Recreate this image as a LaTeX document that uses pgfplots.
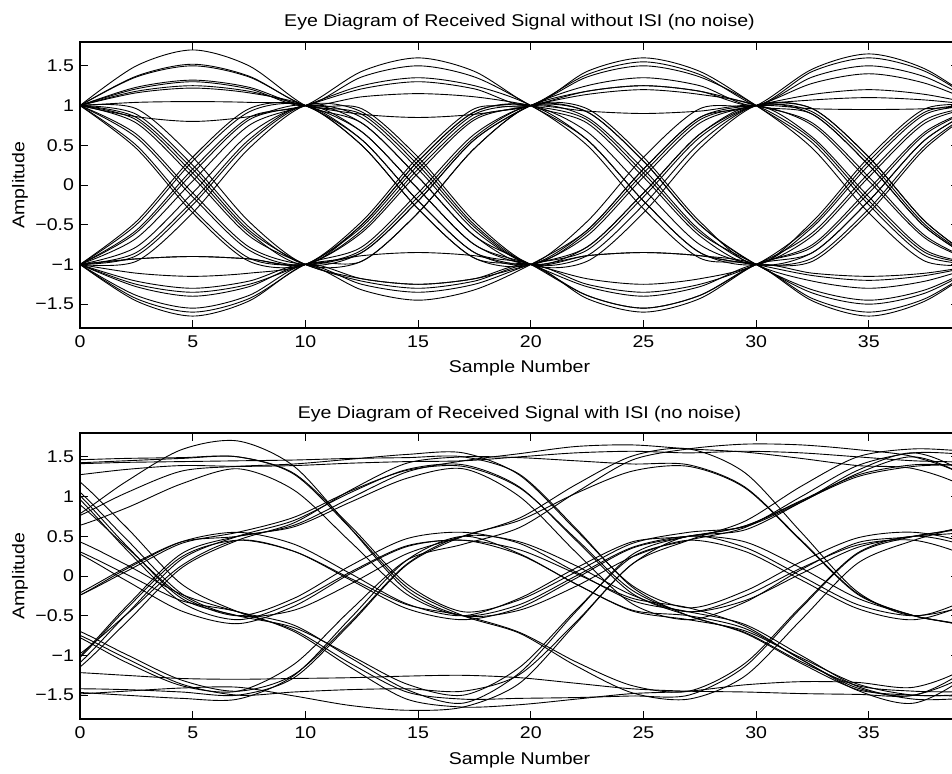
\documentclass[border=0pt]{standalone}
\usepackage{fontspec}
\setmainfont{Liberation Sans}[FakeStretch=1.15]
\usepackage{pgfplots}
\pgfplotsset{compat=1.18}
\pgfplotsset{eyestyle/.style={
  scale only axis, width=439.5pt, height=143pt,
  xmin=0, xmax=39, ymin=-1.8, ymax=1.8,
  xtick={0,5,10,15,20,25,30,35}, xticklabels={0,5,10,15,20,25,30,35},
  ytick={-1.5,-1,-0.5,0,0.5,1,1.5}, yticklabels={−1.5,−1,−0.5,0,0.5,1,1.5},
  tick align=inside, major tick length=4pt,
  axis line style={line width=0.6pt},
  every tick/.style={black, line width=0.45pt},
  xticklabel style={yshift=-1pt},
  xlabel={Sample Number}, ylabel={Amplitude},
  xlabel style={at={(axis description cs:0.5,0)}, anchor=base, yshift=-22.5pt},
  ylabel style={at={(axis description cs:-0.0683,0.5)}, anchor=center},
  title style={at={(axis description cs:0.5,1)}, anchor=base, yshift=1.5pt},
  cycle list={{black, solid, mark=none}},
  every axis plot/.append style={smooth, line width=0.45pt},
}}
\begin{document}
\fontsize{8.5}{10}\selectfont
\begin{tikzpicture}
\useasboundingbox (0,0) rectangle (476pt,-387pt);
\clip (0,0) rectangle (476pt,-387pt);
\begin{axis}[eyestyle, at={(40pt,-164pt)}, anchor=south west,
  title={Eye Diagram of Received Signal without ISI (no noise)}]
\addplot+[smooth] coordinates {(0,1)(2.5,1.50)(5,1.70)(7.5,1.50)(10,1)(12.5,0.78)(15,0.10)(17.5,-0.64)(20,-1)(22.5,-1.39)(25,-1.55)(27.5,-1.39)(30,-1)(32.5,-0.85)(35,-0.20)(37.5,0.57)(40,1)};
\addplot+[smooth] coordinates {(0,1)(2.5,0.60)(5,-0.15)(7.5,-0.82)(10,-1)(12.5,-0.57)(15,0.20)(17.5,0.85)(20,1)(22.5,1.39)(25,1.55)(27.5,1.39)(30,1)(32.5,0.89)(35,0.25)(37.5,-0.53)(40,-1)};
\addplot+[smooth] coordinates {(0,-1)(2.5,-1.43)(5,-1.60)(7.5,-1.43)(10,-1)(12.5,-0.78)(15,-0.10)(17.5,0.64)(20,1)(22.5,0.92)(25,0.30)(27.5,-0.50)(30,-1)(32.5,-1.21)(35,-1.30)(37.5,-1.21)(40,-1)};
\addplot+[smooth] coordinates {(0,-1)(2.5,-0.60)(5,0.15)(7.5,0.82)(10,1)(12.5,1.21)(15,1.30)(17.5,1.21)(20,1)(22.5,1.43)(25,1.60)(27.5,1.43)(30,1)(32.5,0.53)(35,-0.25)(37.5,-0.89)(40,-1)};
\addplot+[smooth] coordinates {(0,1)(2.5,1.21)(5,1.30)(7.5,1.21)(10,1)(12.5,1.36)(15,1.50)(17.5,1.36)(20,1)(22.5,0.57)(25,-0.20)(27.5,-0.85)(30,-1)(32.5,-0.64)(35,0.10)(37.5,0.78)(40,1)};
\addplot+[smooth] coordinates {(0,-1)(2.5,-1.21)(5,-1.30)(7.5,-1.21)(10,-1)(12.5,-1.32)(15,-1.45)(17.5,-1.32)(20,-1)(22.5,-0.57)(25,0.20)(27.5,0.85)(30,1)(32.5,1.46)(35,1.65)(37.5,1.46)(40,1)};
\addplot+[smooth] coordinates {(0,1)(2.5,0.85)(5,0.20)(7.5,-0.57)(10,-1)(12.5,-1.18)(15,-1.25)(17.5,-1.18)(20,-1)(22.5,-0.78)(25,-0.10)(27.5,0.64)(30,1)(32.5,0.92)(35,0.30)(37.5,-0.50)(40,-1)};
\addplot+[smooth] coordinates {(0,-1)(2.5,-0.89)(5,-0.25)(7.5,0.53)(10,1)(12.5,0.78)(15,0.10)(17.5,-0.64)(20,-1)(22.5,-0.60)(25,0.15)(27.5,0.82)(30,1)(32.5,1.14)(35,1.20)(37.5,1.14)(40,1)};
\addplot+[smooth] coordinates {(0,1)(2.5,1.36)(5,1.50)(7.5,1.36)(10,1)(12.5,0.89)(15,0.25)(17.5,-0.53)(20,-1)(22.5,-0.78)(25,-0.10)(27.5,0.64)(30,1)(32.5,0.60)(35,-0.15)(37.5,-0.82)(40,-1)};
\addplot+[smooth] coordinates {(0,-1)(2.5,-1.25)(5,-1.35)(7.5,-1.25)(10,-1)(12.5,-0.85)(15,-0.20)(17.5,0.57)(20,1)(22.5,1.18)(25,1.25)(27.5,1.18)(30,1)(32.5,1.36)(35,1.50)(37.5,1.36)(40,1)};
\addplot+[smooth] coordinates {(0,1)(2.5,0.78)(5,0.10)(7.5,-0.64)(10,-1)(12.5,-1.21)(15,-1.30)(17.5,-1.21)(20,-1)(22.5,-1.25)(25,-1.35)(27.5,-1.25)(30,-1)(32.5,-0.60)(35,0.15)(37.5,0.82)(40,1)};
\addplot+[smooth] coordinates {(0,-1)(2.5,-0.67)(5,0.05)(7.5,0.75)(10,1)(12.5,1.25)(15,1.35)(17.5,1.25)(20,1)(22.5,0.50)(25,-0.30)(27.5,-0.92)(30,-1)(32.5,-1.43)(35,-1.60)(37.5,-1.43)(40,-1)};
\addplot+[smooth] coordinates {(0,1)(2.5,1.04)(5,1.05)(7.5,1.04)(10,1)(12.5,0.67)(15,-0.05)(17.5,-0.75)(20,-1)(22.5,-1.28)(25,-1.40)(27.5,-1.28)(30,-1)(32.5,-1.11)(35,-1.15)(37.5,-1.11)(40,-1)};
\addplot+[smooth] coordinates {(0,-1)(2.5,-0.93)(5,-0.90)(7.5,-0.93)(10,-1)(12.5,-0.60)(15,0.15)(17.5,0.82)(20,1)(22.5,1.14)(25,1.20)(27.5,1.14)(30,1)(32.5,0.57)(35,-0.20)(37.5,-0.85)(40,-1)};
\addplot+[smooth] coordinates {(0,1)(2.5,0.50)(5,-0.30)(7.5,-0.92)(10,-1)(12.5,-0.82)(15,-0.15)(17.5,0.60)(20,1)(22.5,0.85)(25,0.20)(27.5,-0.57)(30,-1)(32.5,-0.85)(35,-0.20)(37.5,0.57)(40,1)};
\addplot+[smooth] coordinates {(0,-1)(2.5,-0.50)(5,0.30)(7.5,0.92)(10,1)(12.5,0.50)(15,-0.30)(17.5,-0.92)(20,-1)(22.5,-1.18)(25,-1.25)(27.5,-1.18)(30,-1)(32.5,-0.50)(35,0.30)(37.5,0.92)(40,1)};
\addplot+[smooth] coordinates {(0,1)(2.5,1.18)(5,1.25)(7.5,1.18)(10,1)(12.5,0.89)(15,0.85)(17.5,0.89)(20,1)(22.5,1.18)(25,1.25)(27.5,1.18)(30,1)(32.5,0.78)(35,0.10)(37.5,-0.64)(40,-1)};
\addplot+[smooth] coordinates {(0,-1)(2.5,-1.39)(5,-1.55)(7.5,-1.39)(10,-1)(12.5,-1.18)(15,-1.25)(17.5,-1.18)(20,-1)(22.5,-1.43)(25,-1.60)(27.5,-1.43)(30,-1)(32.5,-0.78)(35,-0.10)(37.5,0.64)(40,1)};
\addplot+[smooth] coordinates {(0,1)(2.5,0.89)(5,0.25)(7.5,-0.53)(10,-1)(12.5,-0.85)(15,-0.20)(17.5,0.57)(20,1)(22.5,1.25)(25,1.35)(27.5,1.25)(30,1)(32.5,1.43)(35,1.60)(37.5,1.43)(40,1)};
\addplot+[smooth] coordinates {(0,-1)(2.5,-0.78)(5,-0.10)(7.5,0.64)(10,1)(12.5,0.85)(15,0.20)(17.5,-0.57)(20,-1)(22.5,-0.89)(25,-0.25)(27.5,0.53)(30,1)(32.5,0.89)(35,0.25)(37.5,-0.53)(40,-1)};
\addplot+[smooth] coordinates {(0,1)(2.5,0.86)(5,0.80)(7.5,0.86)(10,1)(12.5,0.57)(15,-0.20)(17.5,-0.85)(20,-1)(22.5,-0.57)(25,0.20)(27.5,0.85)(30,1)(32.5,0.96)(35,0.95)(37.5,0.96)(40,1)};
\addplot+[smooth] coordinates {(0,-1)(2.5,-0.93)(5,-0.90)(7.5,-0.93)(10,-1)(12.5,-0.50)(15,0.30)(17.5,0.92)(20,1)(22.5,0.67)(25,-0.05)(27.5,-0.75)(30,-1)(32.5,-0.92)(35,-0.30)(37.5,0.50)(40,1)};
\addplot+[smooth] coordinates {(0,1)(2.5,0.64)(5,-0.10)(7.5,-0.78)(10,-1)(12.5,-0.89)(15,-0.85)(17.5,-0.89)(20,-1)(22.5,-0.64)(25,0.10)(27.5,0.78)(30,1)(32.5,1.07)(35,1.10)(37.5,1.07)(40,1)};
\addplot+[smooth] coordinates {(0,-1)(2.5,-0.57)(5,0.20)(7.5,0.85)(10,1)(12.5,1.43)(15,1.60)(17.5,1.43)(20,1)(22.5,0.78)(25,0.10)(27.5,-0.64)(30,-1)(32.5,-0.53)(35,0.25)(37.5,0.89)(40,1)};
\addplot+[smooth] coordinates {(0,1)(2.5,1.23)(5,1.32)(7.5,1.23)(10,1)(12.5,1.11)(15,1.15)(17.5,1.11)(20,1)(22.5,0.82)(25,0.15)(27.5,-0.60)(30,-1)(32.5,-1.36)(35,-1.50)(37.5,-1.36)(40,-1)};
\addplot+[smooth] coordinates {(0,-1)(2.5,-1.28)(5,-1.40)(7.5,-1.28)(10,-1)(12.5,-1.25)(15,-1.35)(17.5,-1.25)(20,-1)(22.5,-0.82)(25,-0.15)(27.5,0.60)(30,1)(32.5,0.96)(35,0.35)(37.5,-0.46)(40,-1)};
\addplot+[smooth] coordinates {(0,1)(2.5,0.82)(5,0.15)(7.5,-0.60)(10,-1)(12.5,-0.50)(15,0.30)(17.5,0.92)(20,1)(22.5,0.57)(25,-0.20)(27.5,-0.85)(30,-1)(32.5,-1.14)(35,-1.20)(37.5,-1.14)(40,-1)};
\addplot+[smooth] coordinates {(0,-1)(2.5,-0.85)(5,-0.20)(7.5,0.57)(10,1)(12.5,0.67)(15,-0.05)(17.5,-0.75)(20,-1)(22.5,-0.89)(25,-0.85)(27.5,-0.89)(30,-1)(32.5,-1.46)(35,-1.65)(37.5,-1.46)(40,-1)};
\addplot+[smooth] coordinates {(0,1)(2.5,1.16)(5,1.22)(7.5,1.16)(10,1)(12.5,0.57)(15,-0.20)(17.5,-0.85)(20,-1)(22.5,-1.39)(25,-1.55)(27.5,-1.39)(30,-1)(32.5,-0.75)(35,-0.05)(37.5,0.67)(40,1)};
\addplot+[smooth] coordinates {(0,-1)(2.5,-1.11)(5,-1.15)(7.5,-1.11)(10,-1)(12.5,-0.53)(15,0.25)(17.5,0.89)(20,1)(22.5,0.93)(25,0.90)(27.5,0.93)(30,1)(32.5,0.75)(35,0.05)(37.5,-0.67)(40,-1)};
\addplot+[smooth] coordinates {(0,1)(2.5,0.96)(5,0.35)(7.5,-0.46)(10,-1)(12.5,-0.96)(15,-0.35)(17.5,0.46)(20,1)(22.5,0.92)(25,0.30)(27.5,-0.50)(30,-1)(32.5,-1.32)(35,-1.45)(37.5,-1.32)(40,-1)};
\addplot+[smooth] coordinates {(0,-1)(2.5,-0.46)(5,0.35)(7.5,0.96)(10,1)(12.5,0.50)(15,-0.30)(17.5,-0.92)(20,-1)(22.5,-0.46)(25,0.35)(27.5,0.96)(30,1)(32.5,1.28)(35,1.40)(37.5,1.28)(40,1)};
\addplot+[smooth] coordinates {(0,1)(2.5,0.46)(5,-0.35)(7.5,-0.96)(10,-1)(12.5,-0.46)(15,0.35)(17.5,0.96)(20,1)(22.5,1.36)(25,1.50)(27.5,1.36)(30,1)(32.5,0.46)(35,-0.35)(37.5,-0.96)(40,-1)};
\addplot+[smooth] coordinates {(0,-1)(2.5,-0.96)(5,-0.35)(7.5,0.46)(10,1)(12.5,0.92)(15,0.30)(17.5,-0.50)(20,-1)(22.5,-0.89)(25,-0.85)(27.5,-0.89)(30,-1)(32.5,-0.96)(35,-0.35)(37.5,0.46)(40,1)};
\addplot+[smooth] coordinates {(0,1)(2.5,1.37)(5,1.52)(7.5,1.37)(10,1)(12.5,0.96)(15,0.35)(17.5,-0.46)(20,-1)(22.5,-0.96)(25,-0.35)(27.5,0.46)(30,1)(32.5,0.96)(35,0.35)(37.5,-0.46)(40,-1)};
\addplot+[smooth] coordinates {(0,-1)(2.5,-1.46)(5,-1.65)(7.5,-1.46)(10,-1)(12.5,-0.96)(15,-0.35)(17.5,0.46)(20,1)(22.5,0.96)(25,0.35)(27.5,-0.46)(30,-1)(32.5,-0.46)(35,0.35)(37.5,0.96)(40,1)};
\end{axis}
\begin{axis}[eyestyle, at={(40pt,-359.5pt)}, anchor=south west,
  title={Eye Diagram of Received Signal with ISI (no noise)}]
\addplot+[smooth] coordinates {(-3,1.45)(-0.5,1.46)(2,1.48)(4.5,1.49)(7,1.5)(9.5,1.28)(12,0.6)(14.5,-0.14)(17,-0.5)(19.5,-0.72)(22,-1.13)(24.5,-1.47)(27,-1.55)(29.5,-1.26)(32,-0.55)(34.5,0.16)(37,0.45)(39.5,0.66)(42,1.03)};
\addplot+[smooth] coordinates {(-3,0.55)(-0.5,0.48)(2,0.15)(4.5,-0.23)(7,-0.45)(9.5,-0.62)(12,-1.03)(14.5,-1.43)(17,-1.6)(19.5,-1.22)(22,-0.45)(24.5,0.27)(27,0.5)(29.5,0.58)(32,0.93)(34.5,1.33)(37,1.55)(39.5,1.25)(42,0.53)};
\addplot+[smooth] coordinates {(-3,-0.5)(-0.5,-0.71)(2,-1.08)(4.5,-1.38)(7,-1.45)(9.5,-1.11)(12,-0.43)(14.5,0.2)(17,0.4)(19.5,0.61)(22,1.05)(24.5,1.46)(27,1.6)(29.5,1.66)(32,1.65)(34.5,1.59)(37,1.5)(39.5,1.22)(42,0.53)};
\addplot+[smooth] coordinates {(-3,-1.5)(-0.5,-1.14)(2,-0.4)(4.5,0.28)(7,0.5)(9.5,0.62)(12,0.93)(14.5,1.23)(17,1.35)(19.5,1.0)(22,0.3)(24.5,-0.35)(27,-0.55)(29.5,-0.33)(32,0.08)(34.5,0.42)(37,0.5)(39.5,0.65)(42,1.03)};
\addplot+[smooth] coordinates {(-3,1.45)(-0.5,1.09)(2,0.35)(4.5,-0.33)(7,-0.55)(9.5,-0.33)(12,0.05)(14.5,0.38)(17,0.45)(19.5,0.33)(22,0.03)(24.5,-0.28)(27,-0.4)(29.5,-0.63)(32,-1.05)(34.5,-1.41)(37,-1.5)(39.5,-1.14)(42,-0.4)};
\addplot+[smooth] coordinates {(-3,-1.45)(-0.5,-1.42)(2,-1.43)(4.5,-1.46)(7,-1.5)(9.5,-1.28)(12,-0.6)(14.5,0.14)(17,0.5)(19.5,0.7)(22,1.04)(24.5,1.32)(27,1.38)(29.5,1.11)(32,0.44)(34.5,-0.23)(37,-0.5)(39.5,-0.65)(42,-1.0)};
\addplot+[smooth] coordinates {(-3,-0.45)(-0.5,-0.3)(2,0.05)(4.5,0.41)(7,0.55)(9.5,0.74)(12,1.07)(14.5,1.33)(17,1.38)(19.5,1.11)(22,0.47)(24.5,-0.18)(27,-0.45)(29.5,-0.25)(32,0.1)(34.5,0.39)(37,0.45)(39.5,0.24)(42,-0.13)};
\addplot+[smooth] coordinates {(-3,0.45)(-0.5,0.70)(2,1.18)(4.5,1.59)(7,1.7)(9.5,1.38)(12,0.6)(14.5,-0.18)(17,-0.5)(19.5,-0.43)(22,-0.13)(24.5,0.24)(27,0.45)(29.5,0.31)(32,-0.05)(34.5,-0.41)(37,-0.55)(39.5,-0.33)(42,0.08)};
\addplot+[smooth] coordinates {(-3,1.4)(-0.5,1.41)(2,1.43)(4.5,1.44)(7,1.45)(9.5,1.46)(12,1.48)(14.5,1.49)(17,1.5)(19.5,1.28)(22,0.6)(24.5,-0.14)(27,-0.5)(29.5,-0.71)(32,-1.08)(34.5,-1.38)(37,-1.45)(39.5,-1.46)(42,-1.48)};
\addplot+[smooth] coordinates {(-3,-1.5)(-0.5,-1.49)(2,-1.45)(4.5,-1.41)(7,-1.4)(9.5,-1.51)(12,-1.63)(14.5,-1.69)(17,-1.65)(19.5,-1.35)(22,-0.6)(24.5,0.15)(27,0.45)(29.5,0.69)(32,1.13)(34.5,1.5)(37,1.6)(39.5,1.57)(42,1.55)};
\addplot+[smooth] coordinates {(-3,-0.55)(-0.5,-0.69)(2,-1.03)(4.5,-1.36)(7,-1.5)(9.5,-1.46)(12,-1.43)(14.5,-1.42)(17,-1.45)(19.5,-1.24)(22,-0.58)(24.5,0.15)(27,0.5)(29.5,0.36)(32,0)(34.5,-0.36)(37,-0.5)(39.5,-0.36)(42,-0.03)};
\addplot+[smooth] coordinates {(-3,0.5)(-0.5,0.7)(2,1.04)(4.5,1.32)(7,1.38)(9.5,1.41)(12,1.47)(14.5,1.53)(17,1.55)(19.5,1.27)(22,0.58)(24.5,-0.12)(27,-0.4)(29.5,-0.19)(32,0.18)(34.5,0.48)(37,0.55)(39.5,0.4)(42,0.03)};
\addplot+[smooth] coordinates {(-3,1.5)(-0.5,1.29)(2,0.63)(4.5,-0.1)(7,-0.45)(9.5,-0.68)(12,-1.1)(14.5,-1.46)(17,-1.55)(19.5,-1.54)(22,-1.53)(24.5,-1.51)(27,-1.5)(29.5,-1.14)(32,-0.4)(34.5,0.28)(37,0.5)(39.5,0.62)(42,0.93)};
\addplot+[smooth] coordinates {(-3,-1.45)(-0.5,-1.25)(2,-0.6)(4.5,0.1)(7,0.45)(9.5,0.67)(12,1.08)(14.5,1.42)(17,1.5)(19.5,1.49)(22,1.45)(24.5,1.41)(27,1.4)(29.5,1.12)(32,0.45)(34.5,-0.22)(37,-0.5)(39.5,-0.64)(42,-0.98)};
\addplot+[smooth] coordinates {(-3,-0.5)(-0.5,-0.31)(2,0.08)(4.5,0.43)(7,0.55)(9.5,0.4)(12,0.03)(14.5,-0.35)(17,-0.5)(19.5,-0.28)(22,0.1)(24.5,0.43)(27,0.5)(29.5,0.63)(32,0.94)(34.5,1.25)(37,1.38)(39.5,1.41)(42,1.49)};
\addplot+[smooth] coordinates {(-3,0.5)(-0.5,0.34)(2,-0.05)(4.5,-0.44)(7,-0.6)(9.5,-0.38)(12,0.03)(14.5,0.37)(17,0.45)(19.5,0.27)(22,-0.1)(24.5,-0.44)(27,-0.55)(29.5,-0.69)(32,-1.03)(34.5,-1.36)(37,-1.5)(39.5,-1.49)(42,-1.45)};
\addplot+[smooth] coordinates {(-3,1.45)(-0.5,1.17)(2,0.48)(4.5,-0.22)(7,-0.5)(9.5,-0.43)(12,-0.1)(14.5,0.28)(17,0.5)(19.5,0.73)(22,1.15)(24.5,1.51)(27,1.6)(29.5,1.3)(32,0.55)(34.5,-0.2)(37,-0.5)(39.5,-0.28)(42,0.1)};
\addplot+[smooth] coordinates {(-3,-1.5)(-0.5,-1.15)(2,-0.43)(4.5,0.24)(7,0.45)(9.5,0.31)(12,-0.03)(14.5,-0.36)(17,-0.5)(19.5,-0.71)(22,-1.08)(24.5,-1.38)(27,-1.45)(29.5,-1.1)(32,-0.38)(34.5,0.29)(37,0.5)(39.5,0.36)(42,0)};
\addplot+[smooth] coordinates {(-3,-0.5)(-0.5,-0.64)(2,-0.98)(4.5,-1.31)(7,-1.45)(9.5,-1.24)(12,-0.58)(14.5,0.15)(17,0.5)(19.5,0.43)(22,0.13)(24.5,-0.24)(27,-0.45)(29.5,-0.31)(32,0.03)(34.5,0.36)(37,0.5)(39.5,0.57)(42,0.9)};
\addplot+[smooth] coordinates {(-3,0.55)(-0.5,0.6)(2,0.85)(4.5,1.16)(7,1.35)(9.5,1.08)(12,0.43)(14.5,-0.23)(17,-0.5)(19.5,-0.36)(22,0)(24.5,0.36)(27,0.5)(29.5,0.43)(32,0.1)(34.5,-0.28)(37,-0.5)(39.5,-0.65)(42,-1.0)};
\addplot+[smooth] coordinates {(-3,1.4)(-0.5,1.42)(2,1.45)(4.5,1.48)(7,1.5)(9.5,1.29)(12,0.63)(14.5,-0.1)(17,-0.45)(19.5,-0.3)(22,0.05)(24.5,0.41)(27,0.55)(29.5,0.62)(32,0.93)(34.5,1.29)(37,1.5)(39.5,1.21)(42,0.5)};
\addplot+[smooth] coordinates {(-3,-1.45)(-0.5,-1.46)(2,-1.5)(4.5,-1.54)(7,-1.55)(9.5,-1.25)(12,-0.53)(14.5,0.2)(17,0.5)(19.5,0.28)(22,-0.1)(24.5,-0.43)(27,-0.5)(29.5,-0.66)(32,-1.05)(34.5,-1.44)(37,-1.6)(39.5,-1.22)(42,-0.45)};
\addplot+[smooth] coordinates {(-3,-0.5)(-0.5,-0.28)(2,0.1)(4.5,0.43)(7,0.5)(9.5,0.64)(12,0.98)(14.5,1.31)(17,1.45)(19.5,1.54)(22,1.63)(24.5,1.65)(27,1.6)(29.5,1.56)(32,1.48)(34.5,1.39)(37,1.35)(39.5,1.08)(42,0.43)};
\addplot+[smooth] coordinates {(-3,0.5)(-0.5,0.36)(2,0.03)(4.5,-0.31)(7,-0.45)(9.5,-0.7)(12,-1.15)(14.5,-1.55)(17,-1.65)(19.5,-1.62)(22,-1.55)(24.5,-1.48)(27,-1.45)(29.5,-1.37)(32,-1.33)(34.5,-1.34)(37,-1.4)(39.5,-1.12)(42,-0.45)};
\addplot+[smooth] coordinates {(-3,1.5)(-0.5,1.14)(2,0.4)(4.5,-0.28)(7,-0.5)(9.5,-0.65)(12,-1.0)(14.5,-1.36)(17,-1.5)(19.5,-1.15)(22,-0.43)(24.5,0.24)(27,0.45)(29.5,0.61)(32,1.0)(34.5,1.39)(37,1.55)(39.5,1.53)(42,1.5)};
\addplot+[smooth] coordinates {(-3,-1.5)(-0.5,-1.21)(2,-0.5)(4.5,0.21)(7,0.5)(9.5,0.7)(12,1.05)(14.5,1.34)(17,1.4)(19.5,1.12)(22,0.45)(24.5,-0.22)(27,-0.5)(29.5,-0.72)(32,-1.1)(34.5,-1.43)(37,-1.5)(39.5,-1.51)(42,-1.53)};
\addplot+[smooth] coordinates {(-3,1.2)(-0.5,1.26)(2,1.34)(4.5,1.39)(7,1.38)(9.5,1.39)(12,1.42)(14.5,1.44)(17,1.45)(19.5,1.5)(22,1.55)(24.5,1.57)(27,1.55)(29.5,1.57)(32,1.55)(34.5,1.5)(37,1.45)(39.5,1.43)(42,1.38)};
\addplot+[smooth] coordinates {(-3,-1.2)(-0.5,-1.21)(2,-1.25)(4.5,-1.29)(7,-1.3)(9.5,-1.29)(12,-1.28)(14.5,-1.26)(17,-1.25)(19.5,-1.28)(22,-1.35)(24.5,-1.42)(27,-1.45)(29.5,-1.46)(32,-1.48)(34.5,-1.49)(37,-1.5)(39.5,-1.21)(42,-0.5)};
\addplot+[smooth] coordinates {(-3,-1.25)(-0.5,-1.07)(2,-0.5)(4.5,0.13)(7,0.45)(9.5,0.31)(12,-0.05)(14.5,-0.41)(17,-0.55)(19.5,-0.4)(22,-0.03)(24.5,0.35)(27,0.5)(29.5,0.63)(32,0.95)(34.5,1.27)(37,1.4)(39.5,1.39)(42,1.38)};
\addplot+[smooth] coordinates {(-3,1.25)(-0.5,1.0)(2,0.38)(4.5,-0.25)(7,-0.5)(9.5,-0.28)(12,0.13)(14.5,0.47)(17,0.55)(19.5,0.41)(22,0.05)(24.5,-0.31)(27,-0.45)(29.5,-0.61)(32,-1.0)(34.5,-1.39)(37,-1.55)(39.5,-1.54)(42,-1.53)};
\end{axis}
\end{tikzpicture}
\end{document}
